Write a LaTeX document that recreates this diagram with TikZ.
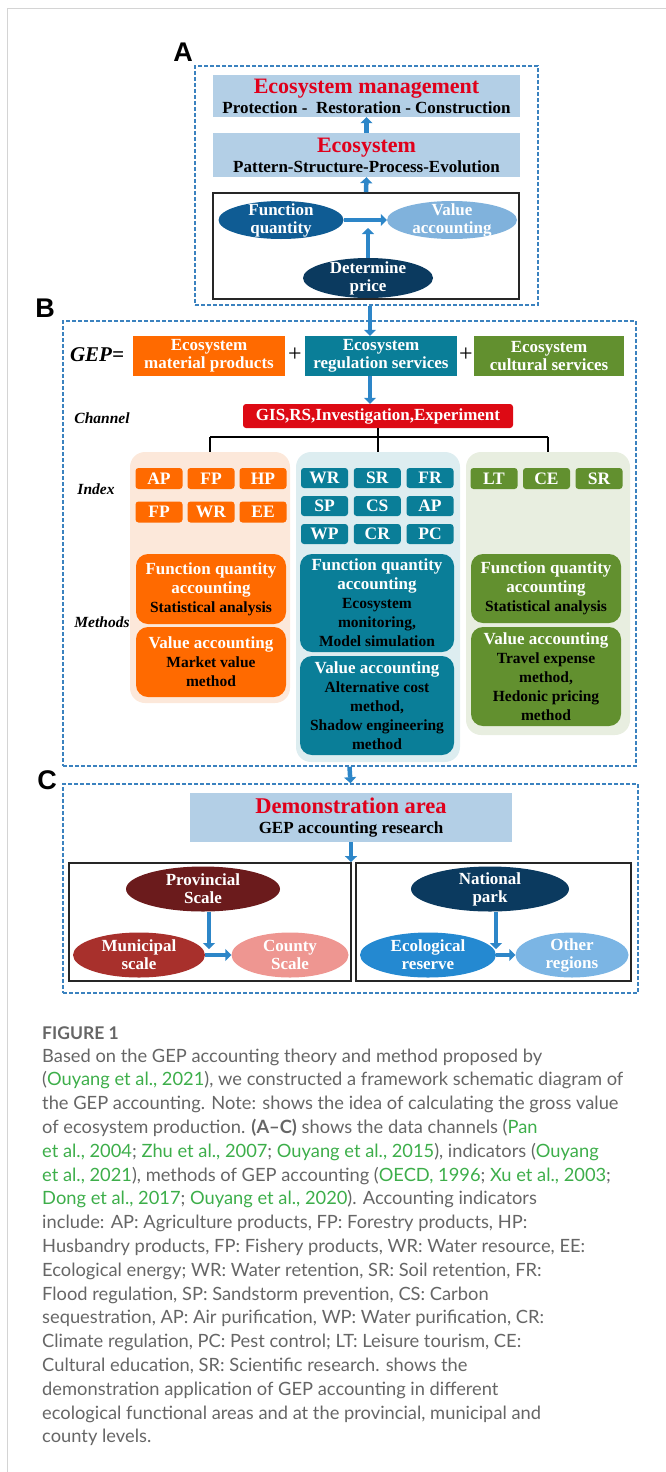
\documentclass[tikz,border=0pt]{standalone}
\usepackage{fontspec}
\setmainfont{Liberation Serif}
\newfontfamily\lblfont{Liberation Sans}
\newfontfamily\capfont{Lato}
\usepackage{tikz}
\usetikzlibrary{arrows.meta,positioning,calc,shapes.geometric}
\definecolor{ecoRed}{HTML}{E0001B}
\definecolor{skyBox}{HTML}{B3CFE6}
\definecolor{dashBlue}{HTML}{3B82BF}
\definecolor{arrBlue}{HTML}{2D86C8}
\definecolor{fqBlue}{HTML}{0F5C94}
\definecolor{vaBlue}{HTML}{80B2DC}
\definecolor{navy}{HTML}{0B3A5F}
\definecolor{matOr}{HTML}{FF6A00}
\definecolor{regTl}{HTML}{0A7E98}
\definecolor{culGr}{HTML}{62902F}
\definecolor{chanRed}{HTML}{DD0A14}
\definecolor{paleOr}{HTML}{FCE8DA}
\definecolor{paleTl}{HTML}{DDEDF0}
\definecolor{paleGr}{HTML}{E8EEE0}
\definecolor{provRed}{HTML}{6B1B1C}
\definecolor{muniRed}{HTML}{A8302C}
\definecolor{cntyPink}{HTML}{EE9691}
\definecolor{ecoBlue}{HTML}{2489D1}
\definecolor{othBlue}{HTML}{7BB5E4}
\definecolor{capGray}{HTML}{666666}
\definecolor{citeG}{HTML}{3DAE4A}
\definecolor{frameG}{HTML}{D4D4D4}
\newcommand{\fs}[2]{\fontsize{#1}{#2}\selectfont}
\newcommand{\dk}[1]{\textcolor{black}{\fs{15.5}{19}#1}}
\newcommand{\cit}[1]{\textcolor{citeG}{#1}}
\tikzset{
  panel/.style={draw=dashBlue, dash pattern=on 4pt off 2pt, line width=1.6pt, inner sep=0pt},
  lbl/.style={font=\lblfont\bfseries\fs{27}{27}},
  skybox/.style={rectangle, fill=skyBox, align=center, inner sep=0pt, font=\bfseries\fs{17}{20}},
  oval/.style={ellipse, fill=#1, text=white, align=center, inner xsep=-5pt, inner ysep=-14pt,
               font=\bfseries\fs{17}{18}},
  gepbox/.style={rectangle, fill=#1, text=white, align=center, inner sep=0pt, font=\bfseries\fs{17}{18}},
  tile/.style={rectangle, rounded corners=3pt, fill=#1, text=white, minimum width=47pt,
               minimum height=21pt, inner sep=0pt, font=\bfseries\fs{17.5}{17}},
  colbg/.style={rectangle, rounded corners=15pt, fill=#1, inner sep=0pt},
  mbox/.style={rectangle, rounded corners=12pt, fill=#1, text=white, align=center, inner sep=0pt,
               font=\bfseries\fs{17}{19}},
  rowlbl/.style={font=\bfseries\itshape\fs{15.5}{16}},
  barrow/.style={-{Triangle[length=6pt,width=12pt]}, line width=4.5pt, draw=arrBlue},
  tree/.style={line width=2pt, draw=black},
  blackbox/.style={rectangle, draw=black!85, line width=1.8pt, inner sep=0pt},
  captxt/.style={font=\capfont\fs{18.3}{20}, text=capGray, inner sep=0pt, anchor=base west},
}
\begin{document}
\begin{tikzpicture}[x=1pt, y=-1pt]
  \useasboundingbox (0,0) rectangle (666,1472);
  % page frame
  \draw[draw=frameG, line width=1pt] (7,1472) -- (7,9) -- (666,9);

  % (A) accounting idea
  \node[lbl] (labA) at (183,52) {A};
  \node[panel, minimum width=343pt, minimum height=239pt] (pA) at (366.5,185.5) {};
  \node[skybox, minimum width=307pt, minimum height=42pt] (mgmt) at (366.5,96)
    {\textcolor{ecoRed}{\fs{22}{22}Ecosystem management}\\Protection - \ Restoration - Construction};
  \node[skybox, minimum width=307pt, minimum height=44pt] (eco) at (366.5,155)
    {\textcolor{ecoRed}{\fs{22}{22}Ecosystem}\\Pattern-Structure-Process-Evolution};
  \node[blackbox, minimum width=306pt, minimum height=106pt] (acct) at (366,246) {};
  \node[oval=fqBlue, minimum width=125pt, minimum height=38pt] (funq) at (281,220) {Function\\quantity};
  \node[oval=vaBlue, minimum width=130pt, minimum height=38pt] (vacc) at (452,220) {Value\\accounting};
  \node[oval=navy, minimum width=130pt, minimum height=40pt] (price) at (368,278) {Determine\\price};
  \coordinate (pj) at (368,228);
  \draw[barrow] (acct.north) -- (eco.south);
  \draw[barrow] (eco.north) -- (mgmt.south);
  \draw[barrow] (funq.east) -- (vacc.west);
  \draw[barrow] (price.north) -- (pj);

  % (B) GEP composition
  \node[lbl] (labB) at (45,308) {B};
  \node[panel, minimum width=573pt, minimum height=445pt] (pB) at (349.5,543.5) {};
  \node[font=\bfseries\itshape\fs{21}{21}] (gep) at (97,355) {GEP=};
  \node[gepbox=matOr, minimum width=152pt, minimum height=40pt] (gMat) at (209,356) {Ecosystem\\material products};
  \node[font=\fs{24}{24}] (plus1) at (295,355) {+};
  \node[gepbox=regTl, minimum width=152pt, minimum height=40pt] (gReg) at (381,356) {Ecosystem\\regulation services};
  \node[font=\fs{24}{24}] (plus2) at (466,355) {+};
  \node[gepbox=culGr, minimum width=150pt, minimum height=40pt] (gCul) at (549,356) {Ecosystem\\cultural services};
  \node[gepbox=chanRed, rounded corners=3pt, minimum width=270pt, minimum height=24pt] (chan) at (378,416)
    {GIS,RS,Investigation,Experiment};
  \node[rowlbl] (lChan) at (102,418) {Channel};
  \node[rowlbl] (lIdx) at (96,489) {Index};
  \node[rowlbl] (lMeth) at (102,622) {Methods};
  \coordinate (ax) at (370,0);
  \draw[barrow] (ax |- pA.south) -- (ax |- gReg.north);
  \draw[barrow] (ax |- gReg.south) -- (ax |- chan.north);

  \node[colbg=paleOr, minimum width=160pt, minimum height=251pt] (cOr) at (210,577.5) {};
  \node[colbg=paleTl, minimum width=164pt, minimum height=310pt] (cTl) at (378,607) {};
  \node[colbg=paleGr, minimum width=164pt, minimum height=283pt] (cGr) at (548,593.5) {};
  \coordinate (tj) at (378,437);
  \draw[tree] (chan.south) -- (chan.south |- tj);
  \draw[tree] (cOr.north |- tj) -- (cGr.north |- tj);
  \foreach \c in {cOr,cTl,cGr}
    \draw[tree] (\c.north |- tj) -- (\c.north);

  % index tiles
  \foreach \t [count=\i from 0] in {AP,FP,HP,FP,WR,EE}
    \node[tile=matOr] (tO\i) at ({159+52*mod(\i,3)},{478.5+33.5*int(\i/3)}) {\t};
  \foreach \t [count=\i from 0] in {WR,SR,FR,SP,CS,AP,WP,CR,PC}
    \node[tile=regTl, minimum height=20pt] (tT\i) at ({324.5+52.75*mod(\i,3)},{478+28*int(\i/3)}) {\t};
  \foreach \t [count=\i from 0] in {LT,CE,SR}
    \node[tile=culGr] (tG\i) at ({494+52.5*\i},478.5) {\t};

  % methods
  \node[mbox=matOr, minimum width=150pt, minimum height=70pt] (oFQ) at (211,589)
    {Function quantity\\accounting\\\dk{Statistical analysis}};
  \node[mbox=matOr, minimum width=150pt, minimum height=70pt] (oVA) at (211,662)
    {Value accounting\\\dk{Market value}\\\dk{method}};
  \node[mbox=regTl, minimum width=154pt, minimum height=98pt] (tFQ) at (377,603)
    {Function quantity\\accounting\\\dk{Ecosystem}\\\dk{monitoring,}\\\dk{Model simulation}};
  \node[mbox=regTl, minimum width=154pt, minimum height=99pt] (tVA) at (377,705.5)
    {Value accounting\\\dk{Alternative cost}\\\dk{method,}\\\dk{Shadow engineering}\\\dk{method}};
  \node[mbox=culGr, minimum width=150pt, minimum height=69pt] (gFQ) at (546,588.5)
    {Function quantity\\accounting\\\dk{Statistical analysis}};
  \node[mbox=culGr, minimum width=150pt, minimum height=99pt] (gVA) at (546,676.5)
    {Value accounting\\\dk{Travel expense}\\\dk{method,}\\\dk{Hedonic pricing}\\\dk{method}};

  % (C) demonstration
  \node[lbl] (labC) at (47,780) {C};
  \node[panel, minimum width=575pt, minimum height=209pt] (pC) at (350.5,888.5) {};
  \draw[barrow] (pB.south) -- (pC.north);
  \node[skybox, minimum width=322pt, minimum height=49pt] (demo) at (351,817.5)
    {\textcolor{ecoRed}{\fs{22.5}{22}Demonstration area}\\GEP accounting research};
  \node[blackbox, minimum width=282pt, minimum height=118pt] (lrect) at (210,922) {};
  \node[blackbox, minimum width=275pt, minimum height=118pt] (rrect) at (493.5,922) {};
  \draw[barrow] (demo.south) -- (demo.south |- lrect.north);
  \node[oval=provRed, minimum width=154pt, minimum height=45pt] (prov) at (203,889) {Provincial\\Scale};
  \node[oval=muniRed, minimum width=132pt, minimum height=45pt] (muni) at (139,955) {Municipal\\scale};
  \node[oval=cntyPink, minimum width=117pt, minimum height=45pt] (cnty) at (290,955) {County\\Scale};
  \node[oval=navy, minimum width=158pt, minimum height=45pt] (natp) at (490,889) {National\\park};
  \node[oval=ecoBlue, minimum width=136pt, minimum height=45pt] (ecor) at (428,955) {Ecological\\reserve};
  \node[oval=othBlue, minimum width=113pt, minimum height=45pt] (othr) at (572,955) {Other\\regions};
  \coordinate (jL) at (209,949);
  \coordinate (jR) at (496,949);
  \draw[barrow] (prov.south -| jL) -- (jL);
  \draw[barrow] (muni.east) -- (cnty.west);
  \draw[barrow] (natp.south -| jR) -- (jR);
  \draw[barrow] (ecor.east) -- (othr.west);

  % caption
  \node[captxt, font=\capfont\bfseries\fs{17.5}{20}] (figT) at (42,1039) {FIGURE 1};
  \foreach \ln [count=\k from 0] in {
    {Based on the GEP accounting theory and method proposed by},
    {(\cit{Ouyang et al., 2021}), we constructed a framework schematic diagram of},
    {the GEP accounting. Note: shows the idea of calculating the gross value},
    {of ecosystem production. \textbf{(A–C)} shows the data channels (\cit{Pan}},
    {\cit{et al., 2004}; \cit{Zhu et al., 2007}; \cit{Ouyang et al., 2015}), indicators (\cit{Ouyang}},
    {\cit{et al., 2021}), methods of GEP accounting (\cit{OECD, 1996}; \cit{Xu et al., 2003};},
    {\cit{Dong et al., 2017}; \cit{Ouyang et al., 2020}). Accounting indicators},
    {include: AP: Agriculture products, FP: Forestry products, HP:},
    {Husbandry products, FP: Fishery products, WR: Water resource, EE:},
    {Ecological energy; WR: Water retention, SR: Soil retention, FR:},
    {Flood regulation, SP: Sandstorm prevention, CS: Carbon},
    {sequestration, AP: Air purification, WP: Water purification, CR:},
    {Climate regulation, PC: Pest control; LT: Leisure tourism, CE:},
    {Cultural education, SR: Scientific research. shows the},
    {demonstration application of GEP accounting in different},
    {ecological functional areas and at the provincial, municipal and},
    {county levels.}}
    \node[captxt] (cap\k) at (42,{1062+23.8*\k}) {\ln};
\end{tikzpicture}
\end{document}
